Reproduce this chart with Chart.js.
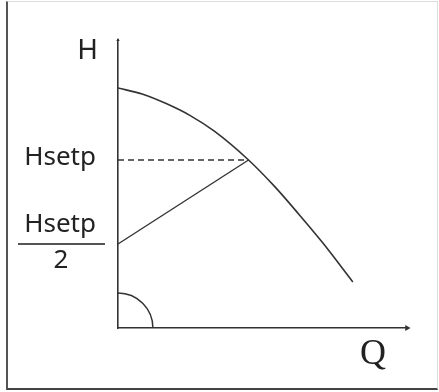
<!DOCTYPE html>
<html>
<head>
<meta charset="utf-8">
<script src="https://cdn.jsdelivr.net/npm/chart.js@4"></script>
<style>
  html, body { margin: 0; padding: 0; background: #fff; }
  #wrap { position: relative; width: 439px; height: 392px; }
  #frame {
    position: absolute; left: 6px; top: 1px; width: 429px; height: 386px;
    border-left: 2px solid #555; border-bottom: 2px solid #444;
    border-top: 1px solid #ddd; border-right: 1px solid #ddd;
    pointer-events: none;
  }
</style>
</head>
<body>
<div id="wrap">
  <canvas id="chart" width="439" height="392"></canvas>
  <div id="frame"></div>
</div>
<script>
// pump curve (Q, H in arbitrary units)
const flow = [0, 1, 2, 3, 4, 5.42, 6.5, 7.5, 8.5, 9.75];
const head = [10, 9.75, 9.35, 8.85, 8.2, 7.0, 5.9, 4.75, 3.55, 1.92];

// set point and control line
const qSetp = 5.42;
const hSetp = 7;
const hHalf = 3.5;
const axisMax = 12;

const curve = flow.map((q, i) => ({ x: q, y: head[i] }));

const ink = '#333';

const labels = {
    id: 'labels',
    afterDraw(chart) {
        const { ctx, scales } = chart;
        const x0 = scales.x.getPixelForValue(0);
        const y0 = scales.y.getPixelForValue(0);
        const ySet = scales.y.getPixelForValue(hSetp);
        const yHalf = scales.y.getPixelForValue(hHalf);
        const r = scales.x.getPixelForValue(1.45) - x0;

        ctx.save();
        // angle mark at origin
        ctx.strokeStyle = ink;
        ctx.lineWidth = 1.5;
        ctx.beginPath();
        ctx.arc(x0, y0, r, -Math.PI / 2, 0);
        ctx.stroke();

        ctx.fillStyle = '#222';
        ctx.font = '28px "Noto Sans"';
        ctx.textAlign = 'right';
        ctx.textBaseline = 'alphabetic';
        ctx.fillText('H', 98, 59);

        ctx.font = '26px "Noto Sans"';
        ctx.fillText('Hsetp', 96, ySet + 5);
        ctx.fillText('Hsetp', 96, yHalf - 12);

        ctx.lineWidth = 2;
        ctx.strokeStyle = '#555';
        ctx.beginPath();
        ctx.moveTo(18, yHalf);
        ctx.lineTo(105, yHalf);
        ctx.stroke();

        ctx.textAlign = 'center';
        ctx.fillText('2', 61, yHalf + 24);

        ctx.font = '36px "Liberation Serif"';
        ctx.fillText('Q', 373, 364);
        ctx.restore();
    }
};

new Chart(document.getElementById('chart'), {
    type: 'scatter',
    data: {
        datasets: [
            {
                data: curve,
                showLine: true,
                borderColor: ink,
                borderWidth: 1.6,
                pointRadius: 0,
                cubicInterpolationMode: 'monotone'
            },
            {
                data: [{ x: 0, y: hSetp }, { x: qSetp, y: hSetp }],
                showLine: true,
                borderColor: ink,
                borderWidth: 1.4,
                borderDash: [6, 4],
                pointRadius: 0
            },
            {
                data: [{ x: 0, y: hHalf }, { x: qSetp, y: hSetp }],
                showLine: true,
                borderColor: ink,
                borderWidth: 1.4,
                pointRadius: 0
            },
            {
                data: [{ x: axisMax, y: 0 }, { x: 0, y: axisMax }],
                pointStyle: 'triangle',
                rotation: [90, 0],
                pointRadius: [3.5, 2],
                backgroundColor: ink,
                borderColor: ink,
                borderWidth: 0,
                clip: false
            }
        ]
    },
    options: {
        responsive: false,
        animation: false,
        layout: { padding: { left: 118, top: 40, right: 32, bottom: 64 } },
        plugins: { legend: { display: false }, tooltip: { enabled: false } },
        scales: {
            x: {
                type: 'linear', min: 0, max: axisMax,
                grid: { display: false, drawTicks: false },
                border: { display: true, color: ink, width: 1.6 },
                ticks: { display: false }
            },
            y: {
                type: 'linear', min: 0, max: axisMax,
                grid: { display: false, drawTicks: false },
                border: { display: true, color: ink, width: 1.6 },
                ticks: { display: false }
            }
        }
    },
    plugins: [labels]
});
</script>
</body>
</html>
